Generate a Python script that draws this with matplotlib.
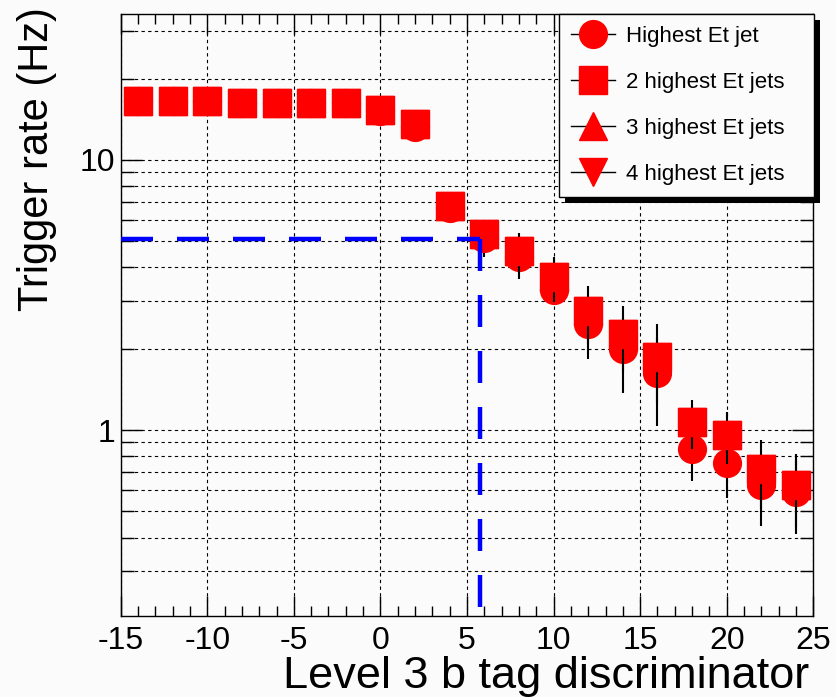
import matplotlib
matplotlib.use("Agg")
import matplotlib.pyplot as plt
from matplotlib.lines import Line2D
from matplotlib.patches import Rectangle
from matplotlib.transforms import IdentityTransform
from matplotlib.ticker import MultipleLocator, LogLocator, FuncFormatter, NullFormatter

# ── data ────────────────────────────────────────────────────────────────── #
disc = [-14, -12, -10, -8, -6, -4, -2, 0, 2, 4, 6, 8, 10, 12, 14, 16, 18, 20, 22, 24]

rate_1jet = [16.6, 16.6, 16.6, 16.2, 16.2, 16.2, 16.2, 15.2, 13.3, 6.64,
             5.16, 4.39, 3.31, 2.47, 1.99, 1.63, 0.853, 0.753, 0.627, 0.592]
err_1jet = [0.3, 0.3, 0.3, 0.3, 0.3, 0.3, 0.3, 0.3, 0.5, 0.76,
            0.78, 0.77, 0.3, 0.64, 0.62, 0.59, 0.204, 0.19, 0.186, 0.181]

rate_2jet = [16.6, 16.6, 16.6, 16.2, 16.2, 16.2, 16.2, 15.3, 13.6, 6.77,
             5.32, 4.59, 3.68, 2.75, 2.26, 1.87, 1.07, 0.956, 0.715, 0.626]
err_2jet = [0.3, 0.3, 0.3, 0.3, 0.3, 0.3, 0.3, 0.3, 0.5, 0.6,
            0.6, 0.76, 0.70, 0.67, 0.62, 0.61, 0.22, 0.207, 0.203, 0.189]

# 3- and 4-jet curves sit fully underneath the 2-jet squares
rate_3jet = list(rate_2jet)
rate_4jet = list(rate_2jet)

labels = ["Highest Et jet", "2 highest Et jets", "3 highest Et jets", "4 highest Et jets"]
markers = ["o", "s", "^", "v"]

rate_target = 5.1   # Hz
cut_value = 5.75    # discriminator cut

xlim = (-15, 25)
ylim = (0.206, 34.7)

# ── style ────────────────────────────────────────────────────────────────── #
plt.rcParams["font.family"] = ["Liberation Sans", "DejaVu Sans"]
plt.rcParams["axes.unicode_minus"] = False
BG = "#fbfbfb"
RED = "#ff0000"
MS = 20

fig = plt.figure(figsize=(8.36, 6.97), dpi=100, facecolor=BG)
ax = fig.add_axes([120.7 / 836, 1 - 615.5 / 697, 692.6 / 836, 601.5 / 697])
ax.set_facecolor(BG)
ax.set_yscale("log")
ax.set_xlim(*xlim)
ax.set_ylim(*ylim)

# triangles hidden beneath
ax.plot(disc, rate_4jet, ls="none", marker="v", ms=MS, color=RED, mec=RED, zorder=2.0)
ax.plot(disc, rate_3jet, ls="none", marker="^", ms=MS, color=RED, mec=RED, zorder=2.05)

# circles: bars under markers
ax.errorbar(disc, rate_1jet, yerr=err_1jet, fmt="none", ecolor="k", elinewidth=1.5, zorder=2.1)
ax.plot(disc, rate_1jet, ls="none", marker="o", ms=MS, color=RED, mec=RED, zorder=2.2)

# squares on top
ax.errorbar(disc, rate_2jet, yerr=err_2jet, fmt="none", ecolor="k", elinewidth=1.5, zorder=2.3)
ax.plot(disc, rate_2jet, ls="none", marker="s", ms=MS, color=RED, mec=RED, zorder=2.4)

# blue cut lines
ax.plot([xlim[0], cut_value], [rate_target, rate_target], color="#0000ff", lw=3.2,
        dashes=(7.2, 5.4), dash_capstyle="butt", zorder=4, clip_on=False)
ax.plot([cut_value, cut_value], [rate_target, ylim[0]], color="#0000ff", lw=3.2,
        dashes=(7.2, 5.4), dash_capstyle="butt", zorder=4)

# ── axes ─────────────────────────────────────────────────────────────────── #
ax.xaxis.set_major_locator(MultipleLocator(5))
ax.xaxis.set_minor_locator(MultipleLocator(1))
ax.xaxis.set_major_formatter(FuncFormatter(lambda v, p: f"{v:g}"))
ax.yaxis.set_major_locator(LogLocator(base=10))
ax.yaxis.set_minor_locator(LogLocator(base=10, subs=range(2, 10)))
ax.yaxis.set_major_formatter(FuncFormatter(lambda v, p: f"{v:g}"))
ax.yaxis.set_minor_formatter(NullFormatter())

ax.tick_params(axis="both", which="both", direction="in", top=True, right=True,
               width=1.0, color="k")
ax.tick_params(axis="x", which="major", length=14.4, labelsize=23, pad=7.5)
ax.tick_params(axis="x", which="minor", length=7.2)
ax.tick_params(axis="y", which="major", length=15, labelsize=23, pad=4)
ax.tick_params(axis="y", which="minor", length=9.4)
for s in ax.spines.values():
    s.set_linewidth(1.0)

gkw = dict(color="k", lw=0.8, dashes=(3, 3))
ax.grid(True, which="major", axis="x", **gkw)
ax.grid(True, which="both", axis="y", **gkw)

ax.set_xlabel("Level 3 b tag discriminator", fontsize=32.5, loc="right")
ax.xaxis.set_label_coords(0.994, -0.0675)
ax.set_ylabel("Trigger rate (Hz)", fontsize=30, loc="top")
ax.yaxis.set_label_coords(-0.092, 1.012)

# ── legend with ROOT-like drop shadow ─────────────────────────────────────── #
handles = [Line2D([], [], color="k", lw=1, marker=m, ms=MS, mfc=RED, mec=RED)
           for m in markers]
leg = ax.legend(handles, labels, loc="upper left", bbox_to_anchor=(0.633, 0.0, 0.368, 1.0),
                mode="expand", borderaxespad=0, fontsize=16, handlelength=1.95,
                handletextpad=0.5, borderpad=0.55, labelspacing=1.12,
                fancybox=False, framealpha=1, facecolor=BG, edgecolor="k")
leg.get_frame().set_linewidth(1.0)

fig.canvas.draw()
bb = leg.get_window_extent()
ax.add_artist(Rectangle((bb.x0 + 6, bb.y0 - 6), bb.width, bb.height, transform=IdentityTransform(),
                        facecolor="k", edgecolor="none", zorder=leg.get_zorder() - 0.1, clip_on=False))

fig.savefig("out.png", dpi=100, facecolor=BG)
